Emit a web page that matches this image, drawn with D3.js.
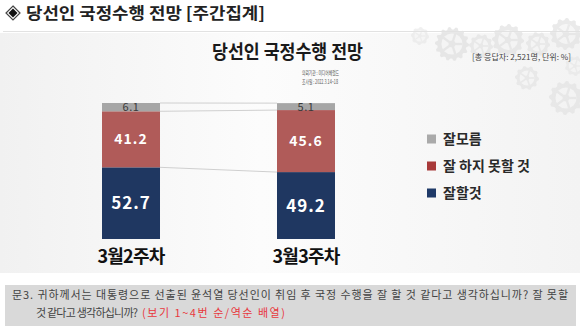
<!DOCTYPE html>
<html>
<head>
<meta charset="utf-8">
<script src="https://cdn.jsdelivr.net/npm/d3@7/dist/d3.min.js"></script>
<style>
  html, body { margin: 0; padding: 0; background: #ffffff; }
  svg { display: block; font-family: "Noto Sans CJK KR", "Noto Sans", sans-serif; }
</style>
</head>
<body>
<svg id="chart" width="580" height="329"></svg>
<script>
// Weekly survey data (%)
const categories = ["3월2주차", "3월3주차"];
const seriesNames = ["잘할것", "잘 하지 못할 것", "잘모름"];
const goodValues = [52.7, 49.2];
const badValues = [41.2, 45.6];
const unsureValues = [6.1, 5.1];
const legendOrder = ["잘모름", "잘 하지 못할 것", "잘할것"];

const barColors = { "잘할것": "#1f3761", "잘 하지 못할 것": "#b05b59", "잘모름": "#a6a6a6" };
const legendColors = { "잘할것": "#1f3a68", "잘 하지 못할 것": "#a83a3a", "잘모름": "#aaaaaa" };

const rows = categories.map((c, i) => ({
  cat: c,
  "잘할것": goodValues[i],
  "잘 하지 못할 것": badValues[i],
  "잘모름": unsureValues[i]
}));

const svg = d3.select("#chart");
const defs = svg.append("defs");

// page background
const bg = defs.append("linearGradient").attr("id", "bg").attr("x1", 0).attr("x2", 1).attr("y1", 0).attr("y2", 0);
bg.append("stop").attr("offset", "0%").attr("stop-color", "#f1f1f1");
bg.append("stop").attr("offset", "45%").attr("stop-color", "#fcfcfc");
bg.append("stop").attr("offset", "100%").attr("stop-color", "#f3f3f3");
svg.append("rect").attr("x", 0).attr("y", 0).attr("width", 580).attr("height", 329).attr("fill", "#ffffff");
svg.append("rect").attr("x", 0).attr("y", 33).attr("width", 580).attr("height", 240).attr("fill", "url(#bg)");

// decorative gears
function gearPath(r, teeth) {
  const pts = [];
  const n = teeth * 4;
  for (let i = 0; i < n; i++) {
    const a = (i / n) * Math.PI * 2;
    const rr = (i % 4 < 2) ? r : r * 0.86;
    pts.push([Math.cos(a) * rr, Math.sin(a) * rr]);
  }
  return d3.line()(pts) + "Z";
}
const gears = [
  { x: 452, y: 44, r: 17, t: 14, o: 0.8 },
  { x: 481, y: 46, r: 12, t: 10, o: 0.7 },
  { x: 508, y: 40, r: 16, t: 12, o: 0.75 },
  { x: 538, y: 44, r: 12, t: 10, o: 0.7 },
  { x: 566, y: 34, r: 16, t: 12, o: 0.75 },
  { x: 527, y: 78, r: 12, t: 10, o: 0.65 },
  { x: 566, y: 98, r: 17, t: 12, o: 0.7 },
  { x: 420, y: 36, r: 9, t: 8, o: 0.5 },
  { x: 575, y: 66, r: 10, t: 9, o: 0.5 }
];
const gg = svg.append("g");
gears.forEach(g => {
  const gr = gg.append("g").attr("transform", `translate(${g.x},${g.y})`).attr("opacity", g.o);
  gr.append("path").attr("d", gearPath(g.r, g.t)).attr("fill", "#e3e3e3");
  gr.append("circle").attr("r", g.r * 0.62).attr("fill", "#f4f4f4");
  gr.append("circle").attr("r", g.r * 0.2).attr("fill", "#e3e3e3");
  for (let k = 0; k < 5; k++) {
    const a = k * Math.PI * 2 / 5;
    gr.append("line").attr("x1", 0).attr("y1", 0)
      .attr("x2", Math.cos(a) * g.r * 0.62).attr("y2", Math.sin(a) * g.r * 0.62)
      .attr("stroke", "#e3e3e3").attr("stroke-width", g.r * 0.14);
  }
});

// header
const diamond = svg.append("g").attr("transform", "translate(13,13)");
diamond.append("path").attr("d", "M0,-7L7,0L0,7L-7,0Z").attr("fill", "#ffffff").attr("stroke", "#444").attr("stroke-width", 1.2);
diamond.append("path").attr("d", "M0,-4.5L4.5,0L0,4.5L-4.5,0Z").attr("fill", "#111");
svg.append("text").attr("x", 26).attr("y", 19)
  .attr("font-size", 16).attr("font-weight", 700).attr("fill", "#222")
  .attr("textLength", 239).attr("lengthAdjust", "spacingAndGlyphs")
  .text("당선인  국정수행  전망 [주간집계]");
svg.append("line").attr("x1", 3).attr("x2", 580).attr("y1", 31.5).attr("y2", 31.5)
  .attr("stroke", "#e2e2e2").attr("stroke-width", 1);

// chart title and notes
svg.append("text").attr("x", 287.5).attr("y", 59).attr("text-anchor", "middle")
  .attr("font-size", 19).attr("font-weight", 700).attr("fill", "#1a1a1a")
  .attr("textLength", 151).attr("lengthAdjust", "spacingAndGlyphs")
  .text("당선인 국정수행 전망");
svg.append("text").attr("x", 302).attr("y", 75).attr("font-size", 6).attr("fill", "#555")
  .attr("textLength", 37).attr("lengthAdjust", "spacingAndGlyphs")
  .text("의뢰기관 : 미디어헤럴드");
svg.append("text").attr("x", 302).attr("y", 84).attr("font-size", 6).attr("fill", "#555")
  .attr("textLength", 36).attr("lengthAdjust", "spacingAndGlyphs")
  .text("조사일 : 2022.3.14~18");
svg.append("text").attr("x", 571).attr("y", 60).attr("text-anchor", "end")
  .attr("font-size", 8).attr("fill", "#444")
  .attr("textLength", 99).attr("lengthAdjust", "spacingAndGlyphs")
  .text("[총 응답자: 2,521명, 단위: %]");

// scales
const x = d3.scaleBand().domain(categories).range([102, 335]).paddingInner(0.6686).paddingOuter(0);
const y = d3.scaleLinear().domain([0, 100]).range([239, 103]);

const stack = d3.stack().keys(seriesNames);
const layers = stack(rows);

// connector lines between the bars at each segment boundary
const connG = svg.append("g");
layers.forEach(layer => {
  const a = layer[0], b = layer[1];
  connG.append("line")
    .attr("x1", x(categories[0]) + x.bandwidth()).attr("y1", y(a[1]))
    .attr("x2", x(categories[1])).attr("y2", y(b[1]))
    .attr("stroke", "#cfcfcf").attr("stroke-width", 1);
});

// bars
const barG = svg.append("g");
layers.forEach(layer => {
  barG.selectAll(null).data(layer).join("rect")
    .attr("x", d => x(d.data.cat))
    .attr("y", d => y(d[1]))
    .attr("width", x.bandwidth())
    .attr("height", d => y(d[0]) - y(d[1]))
    .attr("fill", barColors[layer.key]);
});

// value labels
const labelStyle = {
  "잘할것": { size: 17, fill: "#ffffff", weight: 700, spacing: 1 },
  "잘 하지 못할 것": { size: 14, fill: "#ffffff", weight: 700, spacing: 1 },
  "잘모름": { size: 11, fill: "#3a3a3a", weight: 400, spacing: 0.5 }
};
layers.forEach(layer => {
  const st = labelStyle[layer.key];
  barG.selectAll(null).data(layer).join("text")
    .attr("x", d => x(d.data.cat) + x.bandwidth() / 2)
    .attr("y", d => (y(d[0]) + y(d[1])) / 2)
    .attr("dy", "0.36em")
    .attr("text-anchor", "middle")
    .attr("font-size", st.size).attr("font-weight", st.weight)
    .attr("letter-spacing", st.spacing)
    .attr("fill", st.fill)
    .text(d => d.data[layer.key].toFixed(1));
});

// category axis labels
const xAxis = d3.axisBottom(x).tickSize(0).tickPadding(0);
const axG = svg.append("g").attr("transform", "translate(0,247)").call(xAxis);
axG.select(".domain").remove();
axG.selectAll("text")
  .attr("dy", "0.9em")
  .attr("font-size", 18).attr("font-weight", 700).attr("fill", "#111")
  .attr("letter-spacing", -0.8)
  .attr("font-family", "'Noto Sans CJK KR', sans-serif");

// legend
const legend = svg.append("g").attr("transform", "translate(427,0)");
const legendY = d3.scalePoint().domain(legendOrder).range([139, 193]);
legendOrder.forEach(k => {
  legend.append("rect").attr("x", 0).attr("y", legendY(k) - 4.5).attr("width", 9).attr("height", 9)
    .attr("fill", legendColors[k]);
  legend.append("text").attr("x", 16).attr("y", legendY(k)).attr("dy", "0.36em")
    .attr("font-size", 14).attr("font-weight", 700).attr("fill", "#2a2a2a")
    .text(k);
});

// question box
svg.append("rect").attr("x", 5).attr("y", 285).attr("width", 571).attr("height", 41).attr("fill", "#d9d9d9");
svg.append("text").attr("x", 12).attr("y", 299).attr("font-size", 11).attr("fill", "#444")
  .attr("textLength", 556).attr("lengthAdjust", "spacing")
  .text("문3. 귀하께서는 대통령으로 선출된 윤석열 당선인이 취임 후 국정 수행을 잘 할 것 같다고 생각하십니까? 잘 못할");
svg.append("text").attr("x", 36).attr("y", 317).attr("font-size", 11).attr("fill", "#444")
  .attr("textLength", 102).attr("lengthAdjust", "spacing")
  .text("것 같다고 생각하십니까?");
svg.append("text").attr("x", 142).attr("y", 317).attr("font-size", 11).attr("fill", "#e8383d")
  .attr("textLength", 143).attr("lengthAdjust", "spacing")
  .text("(보기 1~4번 순/역순 배열)");
</script>
</body>
</html>
